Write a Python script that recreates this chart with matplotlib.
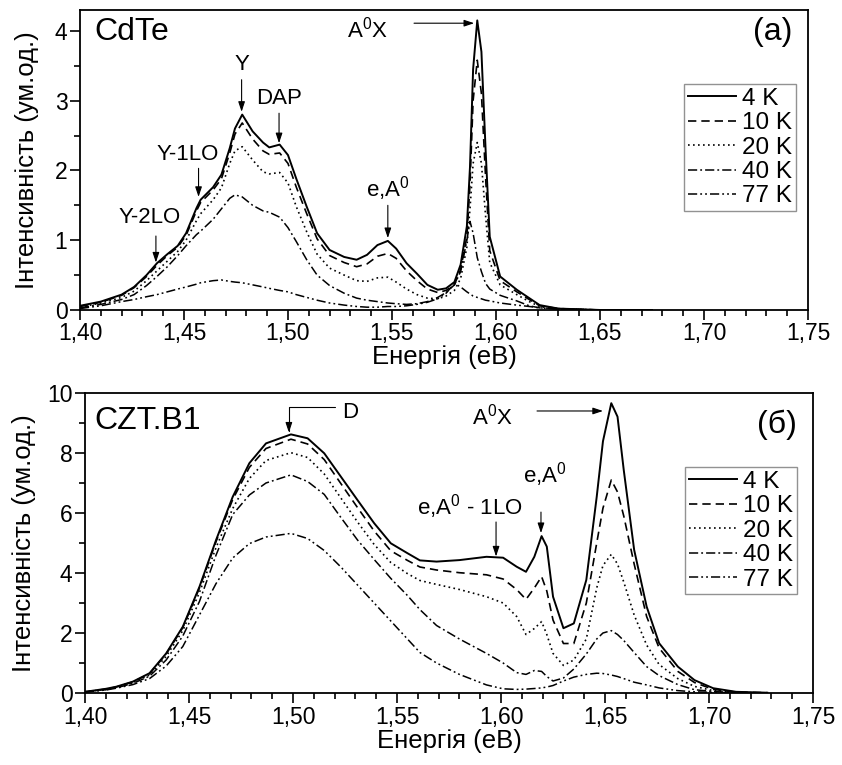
import numpy as np
import matplotlib
matplotlib.use("Agg")
import matplotlib.pyplot as plt
from matplotlib.ticker import MultipleLocator, FuncFormatter

plt.rcParams['font.family'] = ['Liberation Sans', 'DejaVu Sans']
plt.rcParams['mathtext.default'] = 'regular'

# ---- panel (a): CdTe ----
e_a = [1.400, 1.410, 1.420, 1.426, 1.432, 1.437, 1.442, 1.447, 1.451, 1.456,
       1.458, 1.464, 1.468, 1.472, 1.4745, 1.478, 1.483, 1.488, 1.491, 1.496,
       1.500, 1.504, 1.509, 1.514, 1.520, 1.527, 1.533, 1.538, 1.543, 1.548,
       1.552, 1.557, 1.562, 1.567, 1.572, 1.576, 1.580, 1.583, 1.586, 1.5875,
       1.589, 1.591, 1.593, 1.595, 1.597, 1.602, 1.610, 1.616, 1.621, 1.630,
       1.650, 1.675]
a_4K = [0.06, 0.12, 0.22, 0.33, 0.50, 0.67, 0.80, 0.92, 1.10, 1.46,
        1.58, 1.76, 1.94, 2.32, 2.60, 2.80, 2.56, 2.40, 2.33, 2.37,
        2.22, 1.88, 1.48, 1.10, 0.86, 0.76, 0.72, 0.79, 0.93, 0.99,
        0.88, 0.67, 0.52, 0.36, 0.29, 0.31, 0.40, 0.65, 1.20, 2.05,
        3.45, 4.15, 3.70, 2.30, 1.05, 0.48, 0.29, 0.17, 0.07, 0.02,
        0.0, 0.0]
a_10K = [0.05, 0.11, 0.21, 0.32, 0.48, 0.64, 0.78, 0.90, 1.07, 1.42,
         1.54, 1.72, 1.88, 2.25, 2.52, 2.68, 2.45, 2.28, 2.23, 2.25,
         2.10, 1.76, 1.38, 1.02, 0.78, 0.68, 0.62, 0.66, 0.77, 0.81,
         0.74, 0.56, 0.42, 0.30, 0.25, 0.28, 0.36, 0.58, 1.05, 1.80,
         3.00, 3.58, 3.10, 1.90, 0.85, 0.42, 0.26, 0.15, 0.06, 0.02,
         0.0, 0.0]
a_20K = [0.04, 0.10, 0.18, 0.27, 0.42, 0.56, 0.70, 0.84, 1.00, 1.28,
         1.38, 1.58, 1.75, 2.10, 2.28, 2.34, 2.15, 1.98, 1.95, 1.97,
         1.82, 1.48, 1.12, 0.80, 0.60, 0.50, 0.42, 0.41, 0.46, 0.47,
         0.40, 0.30, 0.22, 0.17, 0.16, 0.20, 0.28, 0.45, 0.90, 1.45,
         2.10, 2.40, 2.10, 1.35, 0.68, 0.36, 0.22, 0.12, 0.05, 0.01,
         0.0, 0.0]
a_40K = [0.03, 0.08, 0.15, 0.22, 0.35, 0.48, 0.62, 0.78, 0.92, 1.08,
         1.13, 1.30, 1.45, 1.60, 1.65, 1.62, 1.50, 1.42, 1.40, 1.33,
         1.18, 0.98, 0.72, 0.50, 0.35, 0.24, 0.17, 0.14, 0.12, 0.10,
         0.09, 0.08, 0.09, 0.12, 0.18, 0.25, 0.36, 0.55, 1.00, 1.27,
         1.10, 0.75, 0.55, 0.38, 0.30, 0.21, 0.13, 0.06, 0.03, 0.01,
         0.0, 0.0]
a_77K = [0.02, 0.06, 0.12, 0.15, 0.19, 0.22, 0.26, 0.30, 0.33, 0.37,
         0.39, 0.42, 0.43, 0.41, 0.40, 0.39, 0.36, 0.33, 0.31, 0.28,
         0.26, 0.22, 0.18, 0.14, 0.10, 0.07, 0.05, 0.04, 0.04, 0.05,
         0.05, 0.06, 0.08, 0.11, 0.16, 0.24, 0.38, 0.33, 0.26, 0.23,
         0.20, 0.18, 0.16, 0.14, 0.13, 0.10, 0.07, 0.05, 0.03, 0.02,
         0.0, 0.0]

# ---- panel (б): CZT.B1 ----
e_b = [1.400, 1.410, 1.415, 1.423, 1.431, 1.439, 1.447, 1.455, 1.463, 1.471,
       1.479, 1.487, 1.499, 1.507, 1.515, 1.523, 1.531, 1.539, 1.547, 1.555,
       1.561, 1.569, 1.580, 1.593, 1.601, 1.6075, 1.612, 1.616, 1.6195, 1.622,
       1.625, 1.630, 1.635, 1.641, 1.646, 1.649, 1.653, 1.656, 1.659, 1.664,
       1.670, 1.676, 1.685, 1.693, 1.702, 1.713, 1.728]
b_4K = [0.04, 0.14, 0.21, 0.38, 0.66, 1.32, 2.21, 3.54, 5.10, 6.54,
        7.66, 8.32, 8.62, 8.49, 7.99, 7.21, 6.43, 5.66, 4.99, 4.66,
        4.42, 4.38, 4.43, 4.54, 4.51, 4.21, 4.04, 4.54, 5.23, 4.88,
        3.21, 2.16, 2.32, 3.77, 6.54, 8.39, 9.66, 9.21, 7.43, 4.77,
        2.88, 1.66, 0.88, 0.43, 0.16, 0.04, 0.01]
b_10K = [0.04, 0.13, 0.20, 0.37, 0.64, 1.30, 2.18, 3.50, 5.05, 6.45,
         7.52, 8.15, 8.46, 8.30, 7.78, 6.98, 6.18, 5.40, 4.74, 4.42,
         4.20, 4.10, 4.01, 3.94, 3.80, 3.45, 3.12, 3.50, 3.88, 3.40,
         2.43, 1.65, 1.65, 3.00, 5.00, 6.16, 7.10, 6.70, 5.90, 4.30,
         2.55, 1.50, 0.72, 0.35, 0.12, 0.03, 0.01]
b_20K = [0.04, 0.12, 0.19, 0.35, 0.60, 1.22, 2.08, 3.35, 4.85, 6.15,
         7.15, 7.75, 8.01, 7.85, 7.30, 6.50, 5.70, 4.95, 4.35, 3.98,
         3.75, 3.62, 3.45, 3.21, 3.00, 2.55, 1.95, 2.15, 2.38, 1.95,
         1.32, 0.92, 1.10, 1.80, 3.50, 4.25, 4.62, 4.30, 3.70, 2.60,
         1.60, 0.95, 0.48, 0.22, 0.08, 0.02, 0.0]
b_40K = [0.03, 0.11, 0.17, 0.32, 0.56, 1.10, 1.90, 3.05, 4.60, 5.95,
         6.60, 7.00, 7.27, 7.05, 6.62, 5.85, 5.10, 4.45, 3.82, 3.25,
         2.78, 2.25, 1.80, 1.32, 1.00, 0.68, 0.62, 0.75, 0.72, 0.55,
         0.40, 0.50, 0.80, 1.30, 1.80, 2.00, 2.08, 1.95, 1.75, 1.35,
         0.88, 0.58, 0.28, 0.11, 0.05, 0.01, 0.0]
b_77K = [0.03, 0.10, 0.16, 0.28, 0.48, 0.90, 1.55, 2.60, 3.65, 4.50,
         4.98, 5.20, 5.32, 5.15, 4.75, 4.20, 3.60, 3.00, 2.40, 1.80,
         1.35, 1.00, 0.62, 0.27, 0.14, 0.12, 0.13, 0.15, 0.17, 0.20,
         0.25, 0.40, 0.53, 0.62, 0.66, 0.65, 0.60, 0.55, 0.48, 0.36,
         0.27, 0.17, 0.08, 0.04, 0.02, 0.01, 0.0]

labels = ["4 K", "10 K", "20 K", "40 K", "77 K"]
styles = ['-', (0, (5, 3)), (0, (1, 2)), (0, (6, 2, 1.2, 2)),
          (0, (6, 2, 1.2, 2, 1.2, 2))]
widths = [1.4, 1.2, 1.2, 1.1, 1.1]

TF = 16.5   # tick labels
LF = 18.5   # axis labels
AF = 16     # annotations
PF = 23     # panel titles
comma = FuncFormatter(lambda v, p: f"{v:.2f}".replace('.', ','))

fig = plt.figure(figsize=(8.42, 7.65), dpi=100)
ax1 = fig.add_axes([0.0950, 0.5948, 0.8646, 0.3922])
ax2 = fig.add_axes([0.1010, 0.0941, 0.8646, 0.3922])


def style_axes(ax, ymax, ymaj, ymin, ypad):
    ax.set_xlim(1.40, 1.75)
    ax.set_ylim(0, ymax)
    ax.xaxis.set_major_locator(MultipleLocator(0.05))
    ax.xaxis.set_minor_locator(MultipleLocator(0.01))
    ax.yaxis.set_major_locator(MultipleLocator(ymaj))
    ax.yaxis.set_minor_locator(MultipleLocator(ymin))
    ax.xaxis.set_major_formatter(comma)
    ax.tick_params(which='both', direction='out', width=1.2, labelsize=TF,
                   top=False, right=False, pad=2)
    ax.tick_params(which='major', length=7)
    ax.tick_params(which='minor', length=4)
    for s in ax.spines.values():
        s.set_linewidth(1.3)
    ax.set_xlabel("Енергія (еВ)", fontsize=LF, labelpad=0)
    ax.set_ylabel("Інтенсивність (ум.од.)", fontsize=LF, labelpad=ypad)


series_a = [a_4K, a_10K, a_20K, a_40K, a_77K]
series_b = [b_4K, b_10K, b_20K, b_40K, b_77K]
for ys, lab, ls, lw in zip(series_a, labels, styles, widths):
    ax1.plot(e_a, ys, color='black', linestyle=ls, linewidth=lw, label=lab)
for ys, lab, ls, lw in zip(series_b, labels, styles, widths):
    ax2.plot(e_b, ys, color='black', linestyle=ls, linewidth=lw, label=lab)

style_axes(ax1, 4.3, 1, 0.5, 11)
style_axes(ax2, 10, 2, 1, 8)

for ax, anchor in [(ax1, (0.9835, 0.753)), (ax2, (0.978, 0.753))]:
    leg = ax.legend(loc='upper right', bbox_to_anchor=anchor, fontsize=17.5,
                    handlelength=2.0, handletextpad=0.25, labelspacing=0.1,
                    borderpad=0.15, borderaxespad=0, fancybox=False,
                    frameon=True)
    leg.get_frame().set_edgecolor('#777777')
    leg.get_frame().set_linewidth(1.0)

arw = dict(arrowstyle='-|>,head_length=0.6,head_width=0.2', color='black',
           lw=0.8, shrinkA=0, shrinkB=0)

# panel (a) labels
ax1.text(0.02, 0.925, "CdTe", transform=ax1.transAxes, fontsize=PF,
         va='center', ha='left')
ax1.text(0.978, 0.925, "(a)", transform=ax1.transAxes, fontsize=PF,
         va='center', ha='right')
ann_a = [("Y-2LO", 1.4365, 0.68, 1.06, 1.4335, 1.32),
         ("Y-1LO", 1.457, 1.62, 2.03, 1.452, 2.23),
         ("Y", 1.4777, 2.84, 3.30, 1.4777, 3.52),
         ("DAP", 1.4957, 2.39, 2.82, 1.4957, 3.03),
         ("e,A$^0$", 1.548, 1.03, 1.50, 1.548, 1.74)]
for txt, x, ytip, ytail, tx, ty in ann_a:
    ax1.annotate("", xy=(x, ytip), xytext=(x, ytail), arrowprops=arw)
    ax1.text(tx, ty, txt, fontsize=AF, ha='center', va='center')
ax1.annotate("", xy=(1.5895, 4.11), xytext=(1.5606, 4.11), arrowprops=arw)
ax1.text(1.538, 4.02, "A$^0$X", fontsize=AF, ha='center', va='center')

# panel (б) labels
ax2.text(0.013, 0.905, "CZT.B1", transform=ax2.transAxes, fontsize=PF,
         va='center', ha='left')
ax2.text(0.978, 0.895, "(б)", transform=ax2.transAxes, fontsize=PF,
         va='center', ha='right')
ax2.annotate("", xy=(1.498, 8.68), xytext=(1.5202, 9.53),
             arrowprops=dict(arw, connectionstyle="angle,angleA=0,angleB=90,rad=0"))
ax2.text(1.5235, 9.35, "D", fontsize=AF, ha='left', va='center')
ax2.annotate("", xy=(1.649, 9.40), xytext=(1.6173, 9.40), arrowprops=arw)
ax2.text(1.5957, 9.2, "A$^0$X", fontsize=AF, ha='center', va='center')
ax2.annotate("", xy=(1.6192, 5.33), xytext=(1.6192, 6.03), arrowprops=arw)
ax2.text(1.621, 7.27, "e,A$^0$", fontsize=AF, ha='center', va='center')
ax2.annotate("", xy=(1.5976, 4.55), xytext=(1.5976, 5.70), arrowprops=arw)
ax2.text(1.585, 6.2, "e,A$^0$ - 1LO", fontsize=AF, ha='center', va='center')

fig.savefig("out.png", dpi=100)
